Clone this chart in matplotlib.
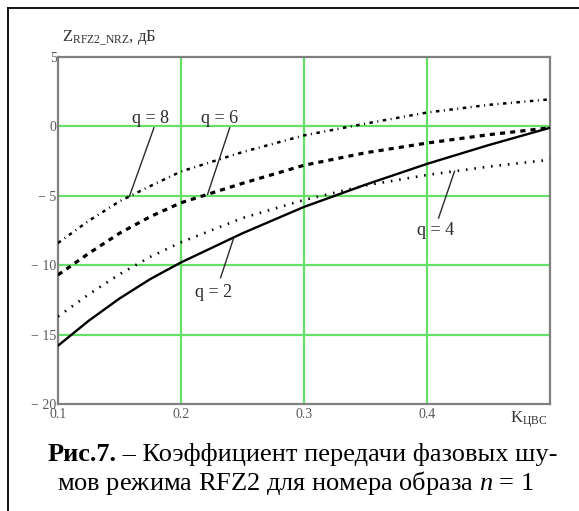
import matplotlib
matplotlib.use('Agg')
import matplotlib.pyplot as plt
from matplotlib.lines import Line2D
import numpy as np

plt.rcParams['font.family'] = ['Liberation Serif', 'DejaVu Serif']
plt.rcParams['mathtext.fontset'] = 'custom'
plt.rcParams['mathtext.rm'] = 'Liberation Serif'
plt.rcParams['mathtext.bf'] = 'Liberation Serif:bold'
plt.rcParams['mathtext.it'] = 'Liberation Serif:italic'

# values
k_cvs = [0.1, 0.125, 0.15, 0.175, 0.2, 0.25, 0.3, 0.35, 0.4, 0.45, 0.5]
z_q2 = [-15.8, -14.0, -12.4, -11.0, -9.8, -7.7, -5.8, -4.2, -2.7, -1.35, -0.1]
z_q4 = [-13.7, -12.1, -10.65, -9.4, -8.35, -6.6, -5.3, -4.25, -3.5, -2.9, -2.4]
z_q6 = [-10.7, -9.15, -7.7, -6.5, -5.5, -4.1, -2.8, -1.9, -1.2, -0.6, -0.1]
z_q8 = [-8.4, -6.8, -5.4, -4.3, -3.25, -1.85, -0.65, 0.2, 1.0, 1.55, 1.95]

x_ticks = [0.1, 0.2, 0.3, 0.4]
x_labels = ['0.1', '0.2', '0.3', '0.4']
y_ticks = [5, 0, -5, -10, -15, -20]
y_labels = ['5', '0', '− 5', '− 10', '− 15', '− 20']

W, H = 579, 511
fig = plt.figure(figsize=(W/100, H/100), dpi=100)
ax = fig.add_axes([58/W, 1-404/H, 492/W, 347/H])

grid_col = '#66e066'
for gx in [0.2, 0.3, 0.4]:
    ax.axvline(gx, color=grid_col, lw=1.6, zorder=1)
for gy in [0, -5, -10, -15]:
    ax.axhline(gy, color=grid_col, lw=1.6, zorder=1)

ax.plot(k_cvs, z_q2, color='black', lw=1.7, zorder=3)
ax.plot(k_cvs, z_q4, color='black', lw=1.9, ls=(0, (0.6, 2.6)), zorder=3)
ax.plot(k_cvs, z_q6, color='black', lw=2.3, ls=(0, (1.6, 1.6)), zorder=3)
ax.plot(k_cvs, z_q8, color='black', lw=1.8, ls=(0, (1.4, 1.8, 0.4, 1.8)), zorder=3)

ax.set_xlim(0.1, 0.5)
ax.set_ylim(-20, 5)
ax.set_xticks(x_ticks)
ax.set_xticklabels(x_labels)
ax.set_yticks(y_ticks)
ax.set_yticklabels(y_labels)
ax.tick_params(length=0, labelsize=10, labelcolor='#5a5a5a')
ax.tick_params(axis='y', pad=1)
ax.tick_params(axis='x', pad=3)
for s in ax.spines.values():
    s.set_color('#808080')
    s.set_linewidth(1.6)

# curve labels with leader lines
lab_col = '#2a2a2a'
labels = [
    ('q = 8', k_cvs, z_q8, 0.158, (0.175, 0.6), (0.178, -0.1)),
    ('q = 6', k_cvs, z_q6, 0.2216, (0.231, 0.6), (0.2396, -0.1)),
    ('q = 4', k_cvs, z_q4, 0.4224, (0.407, -7.5), (0.4094, -6.6)),
    ('q = 2', k_cvs, z_q2, 0.243, (0.2265, -12.0), (0.2322, -10.9)),
]
for txt, xs, ys, xa, tpos, lpos in labels:
    ya = np.interp(xa, xs, ys)
    ax.plot([xa, lpos[0]], [ya, lpos[1]], color=lab_col, lw=1.0, zorder=4)
    ax.text(tpos[0], tpos[1], txt, ha='center', va='center', fontsize=13,
            color=lab_col, zorder=5)

fig.text(62/W, 1-38/H, r'Z$_{\mathregular{RFZ2\_NRZ}}$, дБ', fontsize=12,
         color='#333333', ha='left', va='center')
fig.text(510/W, 1-420/H, r'K$_{\mathregular{ЦВС}}$', fontsize=12,
         color='#333333', ha='left', va='center')

# caption, first line: bold part + regular part
cap_fs = 19
renderer = fig.canvas.get_renderer()
t_bold = fig.text(0, 1-461/H, 'Рис.7.', fontsize=cap_fs, weight='bold',
                  ha='left', va='baseline')
t_rest = fig.text(0, 1-461/H, ' – Коэффициент передачи фазовых шу-',
                  fontsize=cap_fs, ha='left', va='baseline')
w_bold = t_bold.get_window_extent(renderer).width
w_rest = t_rest.get_window_extent(renderer).width
x0 = 302.5 - (w_bold + w_rest) / 2
t_bold.set_x(x0/W)
t_rest.set_x((x0 + w_bold)/W)

fig.text(295/W, 1-490/H,
         r'мов режима RFZ2 для номера образа $\mathit{n}$ = 1',
         fontsize=cap_fs, ha='center', va='baseline', color='black')

# outer frame (left and top edges)
fig.add_artist(Line2D([8/W, 8/W], [0, 1-8/H], color='black', lw=1.3,
                      transform=fig.transFigure))
fig.add_artist(Line2D([8/W, 1], [1-8/H, 1-8/H], color='black', lw=1.3,
                      transform=fig.transFigure))

fig.savefig('out.png', dpi=100)
